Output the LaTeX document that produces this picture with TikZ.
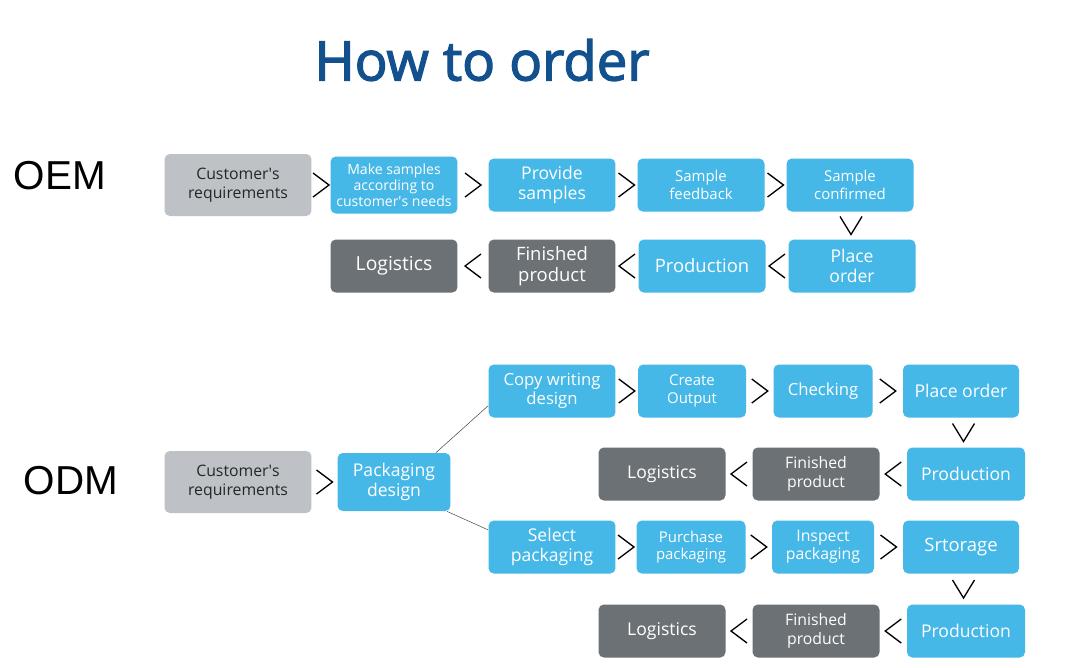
\documentclass[tikz,border=0pt]{standalone}
\usepackage{fontspec}
\setmainfont{Open Sans}
\newfontfamily\labelfont{Liberation Sans}
\newfontfamily\titlefont[FakeBold=2.4]{Open Sans}
\usepackage{tikz}
\usetikzlibrary{positioning,calc}
\definecolor{stepblue}{HTML}{45B8E8}
\definecolor{lightgrey}{HTML}{BEC2C6}
\definecolor{darkgrey}{HTML}{6B7175}
\definecolor{titleblue}{HTML}{12508E}
\tikzset{
  stage/.style={rounded corners=3pt, align=center, inner sep=1pt, font=\fontsize{10}{11}\selectfont,
    minimum width=2.54cm, minimum height=1.06cm},
  bluestage/.style={stage, fill=stepblue, text=white},
  greystage/.style={stage, fill=lightgrey, text=black!85},
  darkstage/.style={stage, fill=darkgrey, text=white},
  chev/.style={draw=black, line width=0.75pt}
}
% chevrons between two boxes
\newcommand{\fwd}[2]{\draw[chev] ($(#1.east)!0.5!(#2.west)$) +(-8,-12) -- +(8,0) -- +(-8,12);}
\newcommand{\bwd}[2]{\draw[chev] ($(#1.west)!0.5!(#2.east)$) +(8,-12) -- +(-8,0) -- +(8,12);}
\newcommand{\dwn}[2]{\draw[chev] ($(#1.south)!0.5!(#2.north)$) +(-11,-9) -- +(0,9) -- +(11,-9);}
\newcommand{\apos}{\textquotesingle}
\begin{document}
\begin{tikzpicture}[x=0.02cm, y=-0.02cm]
\useasboundingbox[fill=white] (0,0) rectangle (1067,667);

\node (title) at (482,60) {\titlefont\color{titleblue}\fontsize{31}{34}\selectfont How to order};
\node (oem) at (60,176) {\labelfont\fontsize{23}{26}\selectfont OEM};
\node (odm) at (71,481) {\labelfont\fontsize{23}{26}\selectfont ODM};

% OEM
\node[greystage, minimum width=2.94cm, minimum height=1.24cm, font=\fontsize{9}{10.5}\selectfont] (oreq) at (238,185) {Customer\apos s\\requirements};
\node[bluestage, minimum height=1.14cm, font=\fontsize{8}{9}\selectfont] (omake) at (394,185) {Make samples\\according to\\customer\apos s needs};
\node[bluestage, font=\fontsize{10}{11.5}\selectfont] (oprov) at (552,185) {Provide\\samples};
\node[bluestage, font=\fontsize{8.5}{10}\selectfont] (ofeed) at (701,185) {Sample\\feedback};
\node[bluestage, font=\fontsize{8.5}{10}\selectfont] (oconf) at (850,185) {Sample\\confirmed};
\node[bluestage, font=\fontsize{10}{11.5}\selectfont] (oplace) at (852,266) {Place\\order};
\node[bluestage, font=\fontsize{10.5}{12}\selectfont] (oprod) at (702,266) {Production};
\node[darkstage, font=\fontsize{10.5}{12}\selectfont] (ofin) at (552,266) {Finished\\product};
\node[darkstage, font=\fontsize{11}{12}\selectfont] (olog) at (394,266) {Logistics};

\fwd{oreq}{omake}
\fwd{omake}{oprov}
\fwd{oprov}{ofeed}
\fwd{ofeed}{oconf}
\dwn{oconf}{oplace}
\bwd{oplace}{oprod}
\bwd{oprod}{ofin}
\bwd{ofin}{olog}

% ODM
\node[greystage, minimum width=2.94cm, minimum height=1.24cm, font=\fontsize{9}{10.5}\selectfont] (dreq) at (238,482) {Customer\apos s\\requirements};
\node[bluestage, minimum width=2.26cm, minimum height=1.16cm] (dpack) at (394,482) {Packaging\\design};

\node[bluestage, font=\fontsize{9.5}{11}\selectfont] (dcopy) at (552,391) {Copy writing\\design};
\node[bluestage, minimum width=2.16cm, font=\fontsize{8.5}{10}\selectfont] (dout) at (692,391) {Create\\Output};
\node[bluestage, minimum width=1.98cm, font=\fontsize{9.5}{11}\selectfont] (dcheck) at (823,391) {Checking};
\node[bluestage, minimum width=2.32cm] (dplace) at (961,391) {Place order};
\node[bluestage, minimum width=2.36cm] (dprod) at (966,474) {Production};
\node[darkstage, font=\fontsize{9}{10.5}\selectfont] (dfin) at (816,474) {Finished\\product};
\node[darkstage] (dlog) at (662,474) {Logistics};

\node[bluestage] (dsel) at (552,547) {Select\\packaging};
\node[bluestage, minimum width=2.18cm, font=\fontsize{8.5}{10}\selectfont] (dbuy) at (691,547) {Purchase\\packaging};
\node[bluestage, minimum width=2.04cm, font=\fontsize{9}{10.5}\selectfont] (dinsp) at (823,547) {Inspect\\packaging};
\node[bluestage, minimum width=2.32cm, font=\fontsize{10.5}{12}\selectfont] (dstore) at (961,547) {Srtorage};
\node[bluestage, minimum width=2.36cm] (dprod2) at (966,631) {Production};
\node[darkstage, font=\fontsize{9}{10.5}\selectfont] (dfin2) at (816,631) {Finished\\product};
\node[darkstage] (dlog2) at (662,631) {Logistics};

\fwd{dreq}{dpack}
\draw[black!70, line width=0.3pt] (dpack.35) -- (dcopy.193);
\draw[black!70, line width=0.3pt] (dpack.-29) -- (dsel.165);

\fwd{dcopy}{dout}
\fwd{dout}{dcheck}
\fwd{dcheck}{dplace}
\dwn{dplace}{dprod}
\bwd{dprod}{dfin}
\bwd{dfin}{dlog}

\fwd{dsel}{dbuy}
\fwd{dbuy}{dinsp}
\fwd{dinsp}{dstore}
\dwn{dstore}{dprod2}
\bwd{dprod2}{dfin2}
\bwd{dfin2}{dlog2}
\end{tikzpicture}
\end{document}
